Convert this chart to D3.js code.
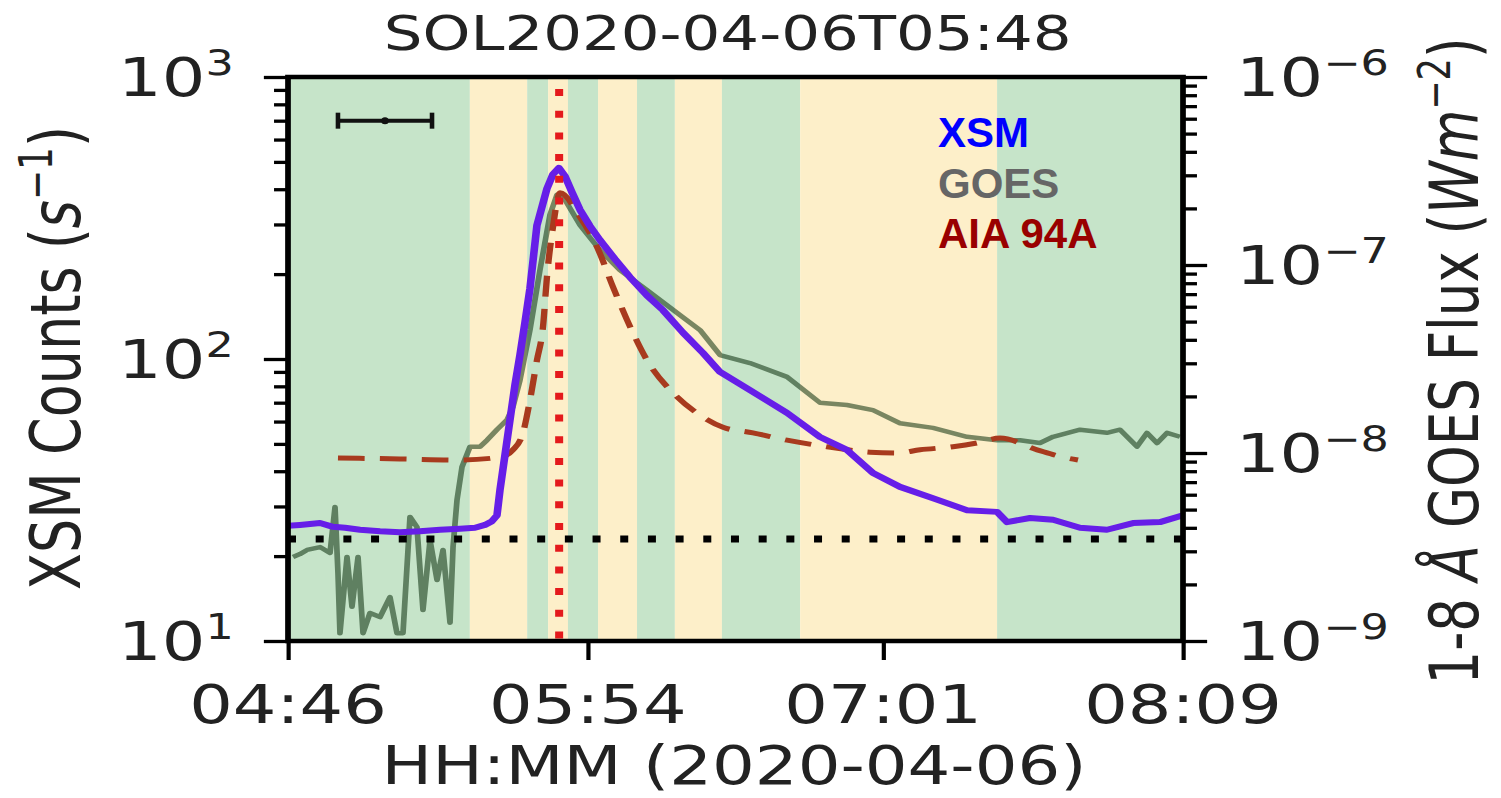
<!DOCTYPE html>
<html><head><meta charset="utf-8">
<script src="https://cdn.jsdelivr.net/npm/d3@7"></script>
<style>body{margin:0;background:#fff;overflow:hidden} svg{display:block}</style>
</head><body>
<svg id="root" width="1501" height="798"></svg>
<script>
// ---------- data ----------
const titleText = "SOL2020-04-06T05:48";
const dateStr = "2020-04-06";
const xDomain = ["04:46:00", "08:09:00"];
const xTickLabels = ["04:46", "05:54", "07:01", "08:09"];
const leftMajor = [10, 100, 1000];
const leftExp = ["1", "2", "3"];
const rightMajor = [1e-9, 1e-8, 1e-7, 1e-6];
const rightExp = ["\u22129", "\u22128", "\u22127", "\u22126"];

const xsmTimes = ["04:46:00","04:48:43","04:53:16","04:56:12","04:58:56","05:02:20","05:06:52","05:11:24","05:15:56","05:20:29","05:25:01","05:28:25","05:30:41","05:32:16","05:33:24","05:34:05","05:35:13","05:36:21","05:37:29","05:38:37","05:39:45","05:40:53","05:42:28","05:44:44","05:46:06","05:47:28","05:48:50","05:50:25","05:52:14","05:54:30","05:56:46","06:00:10","06:03:34","06:07:25","06:11:03","06:15:35","06:20:08","06:23:59","06:30:47","06:39:11","06:46:40","06:52:47","06:58:41","07:04:49","07:12:18","07:20:01","07:26:49","07:29:05","07:34:18","07:39:31","07:45:38","07:51:45","07:57:40","08:03:47","08:09:00"];
const xsmCounts = [25.6,25.8,26.2,25.4,25.2,24.8,24.5,24.3,24.5,24.8,25.0,25.2,25.8,26.6,27.9,34.3,45.7,60.8,80.9,103.4,135,178,298,402,452,476,445,390,338,296,264,226,195,168,149,124,105,90,77.6,64.4,52.9,47.6,39.4,35.2,32.1,29.1,28.7,26.4,27.3,26.9,25.2,24.8,26.2,26.4,27.9];

const goesTimes = ["04:47:08","04:48:43","04:50:19","04:53:16","04:55:32","04:56:40","04:57:20","04:57:47","04:59:23","05:00:31","05:01:53","05:03:01","05:04:36","05:06:52","05:09:08","05:10:43","05:12:05","05:13:40","05:15:15","05:16:37","05:18:13","05:19:48","05:21:10","05:22:45","05:23:26","05:24:20","05:25:28","05:27:17","05:29:33","05:31:08","05:33:24","05:35:40","05:37:02","05:38:37","05:40:53","05:43:09","05:45:25","05:47:00","05:48:50","05:52:14","05:56:46","06:01:18","06:07:25","06:14:55","06:19:27","06:23:59","06:30:47","06:39:11","06:46:40","06:52:47","06:58:41","07:04:49","07:12:18","07:20:01","07:26:49","07:32:01","07:36:34","07:39:31","07:45:38","07:51:45","07:54:42","07:58:34","08:00:50","08:03:07","08:05:23","08:08:19"];
const goesFlux = [2.8e-9,2.9e-9,3.05e-9,3.16e-9,2.94e-9,5.16e-9,2.3e-9,1.1e-9,2.8e-9,1.52e-9,2.8e-9,1.1e-9,1.41e-9,1.34e-9,1.71e-9,1.1e-9,1.1e-9,4.57e-9,4.04e-9,1.46e-9,3.44e-9,2.11e-9,3.05e-9,1.25e-9,3.16e-9,5.62e-9,8.42e-9,1.08e-8,1.08e-8,1.17e-8,1.33e-8,1.5e-8,1.76e-8,2.44e-8,4.51e-8,9.4e-8,1.85e-7,2.36e-7,2.22e-7,1.63e-7,1.2e-7,9.4e-8,7.36e-8,5.42e-8,4.51e-8,3.32e-8,3.01e-8,2.54e-8,1.85e-8,1.8e-8,1.69e-8,1.44e-8,1.36e-8,1.22e-8,1.17e-8,1.17e-8,1.13e-8,1.22e-8,1.33e-8,1.28e-8,1.33e-8,1.08e-8,1.28e-8,1.13e-8,1.28e-8,1.22e-8];

const aiaTimes = ["04:57:20","05:11:24","05:25:01","05:34:05","05:37:02","05:39:18","05:40:53","05:42:28","05:43:50","05:44:44","05:46:06","05:47:41","05:52:14","05:56:05","05:59:43","06:04:15","06:07:25","06:13:19","06:18:46","06:24:40","06:31:28","06:39:11","06:48:15","06:58:00","07:04:08","07:09:22","07:16:50","07:22:17","07:27:30","07:35:54","07:41:47","07:45:11"];
const aiaFlux = [9.4e-9,9.3e-9,9.18e-9,9.5e-9,1.04e-8,1.28e-8,1.91e-8,3.12e-8,4.68e-8,8.63e-8,1.59e-7,2.42e-7,1.8e-7,1.25e-7,7.64e-8,4.35e-8,3.12e-8,2.09e-8,1.63e-8,1.37e-8,1.28e-8,1.17e-8,1.08e-8,1.01e-8,1.0e-8,1.04e-8,1.08e-8,1.13e-8,1.2e-8,1.04e-8,9.5e-9,9.18e-9];

const bandEdges = ["04:46:00","05:27:15","05:40:15","05:45:00","05:49:30","05:56:20","06:05:10","06:13:45","06:24:25","06:42:10","07:26:50","08:09:00"];
const bandKinds = ["g","y","g","y","g","y","g","y","g","y","g"];

const peakTime = "05:47:30";
const bkgCounts = 23;
const errBarTimes = ["04:57:20", "05:08:00", "05:18:40"];
const errBarCounts = 700;

const legendLabels = ["XSM", "GOES", "AIA 94A"];
const legendColors = ["#0000ff", "#666666", "#990000"];

// ---------- layout ----------
const W = 1501, H = 798, S = 1.27, VBW = W / S;
const L = 288 / S, R = 1183 / S, T = 77, B = 641;
const FONT = "DejaVu Sans, Verdana, sans-serif";

const parse = d3.utcParse("%Y-%m-%d %H:%M:%S");
const tp = s => parse(dateStr + " " + (s.length === 5 ? s + ":00" : s));

const root = d3.select("#root");
const chart = root.append("svg").attr("width", W).attr("height", H)
  .attr("viewBox", `0 0 ${VBW} ${H}`).attr("preserveAspectRatio", "none");

const x = d3.scaleUtc().domain(xDomain.map(tp)).range([L, R]);
const yL = d3.scaleLog().domain([10, 1000]).range([B, T]);
const yR = d3.scaleLog().domain([1e-9, 1e-6]).range([B, T]);

chart.append("defs").append("clipPath").attr("id", "clip")
  .append("rect").attr("x", L).attr("y", T).attr("width", R - L).attr("height", B - T);

const plot = chart.append("g").attr("clip-path", "url(#clip)");

// bands
const bands = bandKinds.map((k, i) => ({k, a: tp(bandEdges[i]), b: tp(bandEdges[i + 1])}));
plot.selectAll("rect.band").data(bands).join("rect").attr("class", "band")
  .attr("x", d => x(d.a)).attr("width", d => x(d.b) - x(d.a))
  .attr("y", T).attr("height", B - T)
  .attr("fill", d => d.k === "g" ? "#c6e4c9" : "#fdefc9");

// GOES
const goes = goesTimes.map((t, i) => ({t: tp(t), v: goesFlux[i]}));
plot.append("path").datum(goes)
  .attr("d", d3.line().x(d => x(d.t)).y(d => yR(d.v)))
  .attr("fill", "none").attr("stroke", "#7a8f7b").attr("stroke-width", 4.5)
  .attr("stroke-linejoin", "round").style("mix-blend-mode", "multiply");

// AIA
const aia = aiaTimes.map((t, i) => ({t: tp(t), v: aiaFlux[i]}));
plot.append("path").datum(aia)
  .attr("d", d3.line().x(d => x(d.t)).y(d => yR(d.v)).curve(d3.curveMonotoneX))
  .attr("fill", "none").attr("stroke", "#a83a1e").attr("stroke-width", 5)
  .attr("stroke-dasharray", "21 12");

// XSM
const xsm = xsmTimes.map((t, i) => ({t: tp(t), v: xsmCounts[i]}));
plot.append("path").datum(xsm)
  .attr("d", d3.line().x(d => x(d.t)).y(d => yL(d.v)))
  .attr("fill", "none").attr("stroke", "#661ee8").attr("stroke-width", 6)
  .attr("stroke-linejoin", "round");

// background dotted
plot.append("line").attr("x1", L).attr("x2", R)
  .attr("y1", yL(bkgCounts)).attr("y2", yL(bkgCounts))
  .attr("stroke", "#000").attr("stroke-width", 7).attr("stroke-dasharray", "6.3 15.5");

// peak dotted
plot.append("line").attr("x1", x(tp(peakTime))).attr("x2", x(tp(peakTime)))
  .attr("y1", T + 12).attr("y2", B)
  .attr("stroke", "#e41a1c").attr("stroke-width", 6.3).attr("stroke-dasharray", "7 14.7");

// error bar
const eb = plot.append("g").attr("stroke", "#111");
const ey = yL(errBarCounts);
eb.append("line").attr("x1", x(tp(errBarTimes[0]))).attr("x2", x(tp(errBarTimes[2])))
  .attr("y1", ey).attr("y2", ey).attr("stroke-width", 4);
[errBarTimes[0], errBarTimes[2]].forEach(t => {
  eb.append("line").attr("x1", x(tp(t))).attr("x2", x(tp(t)))
    .attr("y1", ey - 8).attr("y2", ey + 8).attr("stroke-width", 3.6);
});
eb.append("ellipse").attr("cx", x(tp(errBarTimes[1]))).attr("cy", ey)
  .attr("rx", 3).attr("ry", 3.5).attr("fill", "#111").attr("stroke", "none");

// ---------- axes ----------
const minorOf = (lo, hi) => {
  const out = [];
  for (let e = Math.log10(lo); e < Math.log10(hi) - 1e-9; e++)
    for (let m = 2; m <= 9; m++) out.push(m * Math.pow(10, e));
  return out;
};
function styleAxis(g) {
  g.select(".domain").remove();
  g.selectAll("line").attr("stroke", "#000").attr("stroke-width", 3.3);
  g.selectAll("text").remove();
}
chart.append("g").attr("transform", `translate(${L},0)`)
  .call(d3.axisLeft(yL).tickValues(leftMajor).tickSize(19)).call(styleAxis);
chart.append("g").attr("transform", `translate(${L},0)`)
  .call(d3.axisLeft(yL).tickValues(minorOf(10, 1000)).tickSize(11)).call(styleAxis);
chart.append("g").attr("transform", `translate(${R},0)`)
  .call(d3.axisRight(yR).tickValues(rightMajor).tickSize(19)).call(styleAxis);
chart.append("g").attr("transform", `translate(${R},0)`)
  .call(d3.axisRight(yR).tickValues(minorOf(1e-9, 1e-6)).tickSize(11)).call(styleAxis);
chart.append("g").attr("transform", `translate(0,${B})`)
  .call(d3.axisBottom(x).tickValues(xTickLabels.map(tp)).tickSize(19)).call(styleAxis);

// frame
chart.append("rect").attr("x", L).attr("y", T).attr("width", R - L).attr("height", B - T)
  .attr("fill", "none").attr("stroke", "#000").attr("stroke-width", 4.5);

// tick labels
const tf = 54, sf = 35;
xTickLabels.forEach(s => {
  chart.append("text").attr("x", x(tp(s))).attr("y", 723)
    .attr("text-anchor", "middle").attr("font-family", FONT).attr("font-size", tf)
    .attr("fill", "#222").text(s);
});
leftMajor.forEach((v, i) => {
  const t = chart.append("text").attr("x", 184).attr("y", yL(v) + 19.5)
    .attr("text-anchor", "end").attr("font-family", FONT).attr("font-size", tf).attr("fill", "#222");
  t.append("tspan").text("10");
  t.append("tspan").attr("font-size", sf).attr("dy", -21.5).text(leftExp[i]);
});
rightMajor.forEach((v, i) => {
  const t = chart.append("text").attr("x", 1236 / S).attr("y", yR(v) + 19.5)
    .attr("font-family", FONT).attr("font-size", tf).attr("fill", "#222");
  t.append("tspan").text("10");
  t.append("tspan").attr("font-size", sf).attr("dy", -21.5).text(rightExp[i]);
});

// axis titles
chart.append("text").attr("x", 573).attr("y", 50).attr("text-anchor", "middle")
  .attr("font-family", FONT).attr("font-size", 48).attr("fill", "#222").text(titleText);
chart.append("text").attr("x", 578).attr("y", 784).attr("text-anchor", "middle")
  .attr("font-family", FONT).attr("font-size", 53).attr("fill", "#222").text("HH:MM (2020-04-06)");

const yl = chart.append("text").attr("transform", `translate(63,358) rotate(-90)`)
  .attr("text-anchor", "middle").attr("font-family", FONT).attr("font-size", 54).attr("fill", "#222");
yl.append("tspan").text("XSM Counts (");
yl.append("tspan").attr("font-style", "italic").text("s");
yl.append("tspan").attr("font-size", 36).attr("dy", -22).text("\u22121");
yl.append("tspan").attr("dy", 22).text(")");

const yr = chart.append("text").attr("transform", `translate(${1478 / S},361) rotate(-90)`)
  .attr("text-anchor", "middle").attr("font-family", FONT).attr("font-size", 53).attr("fill", "#222");
yr.append("tspan").text("1-8 ");
yr.append("tspan").attr("font-style", "italic").text("\u00c5");
yr.append("tspan").text(" GOES Flux (");
yr.append("tspan").attr("font-style", "italic").text("Wm");
yr.append("tspan").attr("font-size", 35).attr("dy", -22).text("\u22122");
yr.append("tspan").attr("dy", 22).text(")");

// legend (not stretched)
legendLabels.forEach((s, i) => {
  root.append("text").attr("x", 938).attr("y", 147 + i * 50.5)
    .attr("font-family", "Liberation Sans, Arial, sans-serif").attr("font-weight", "bold")
    .attr("font-size", 42).attr("fill", legendColors[i]).text(s);
});
</script>
</body></html>
